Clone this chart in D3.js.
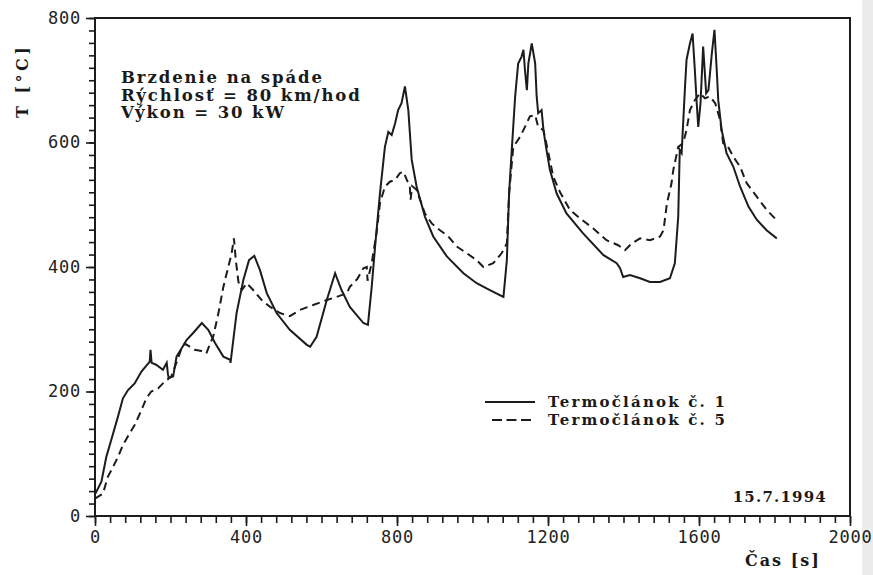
<!DOCTYPE html>
<html>
<head>
<meta charset="utf-8">
<script src="https://cdn.jsdelivr.net/npm/d3@7"></script>
<style>
  body { margin: 0; background: #fff; }
  svg { display: block; }
  .tick text { font-family: "DejaVu Sans Mono", monospace; font-size: 17px; fill: #222; }
  .lbl { font-family: "DejaVu Serif", serif; font-weight: bold; fill: #1a1a1a; }
</style>
</head>
<body>
<div id="chart"></div>
<script>
// Termočlánok č. 1 (solid)
const time1 = [1, 17, 30, 43, 61, 74, 87, 105, 123, 145, 147, 150, 162, 180, 190, 193, 195, 207, 216, 243, 260, 283, 300, 318, 340, 358, 359, 375, 393, 408, 422, 437, 455, 481, 516, 561, 570, 587, 614, 636, 653, 675, 711, 723, 733, 742, 755, 768, 777, 786, 795, 803, 812, 821, 830, 839, 852, 874, 896, 932, 976, 1011, 1046, 1082, 1091, 1097, 1104, 1113, 1121, 1130, 1135, 1139, 1144, 1148, 1157, 1166, 1170, 1174, 1183, 1188, 1196, 1205, 1223, 1249, 1293, 1347, 1382, 1391, 1399, 1417, 1444, 1470, 1497, 1523, 1536, 1545, 1549, 1554, 1563, 1567, 1576, 1583, 1589, 1594, 1598, 1604, 1611, 1619, 1625, 1634, 1641, 1647, 1651, 1660, 1673, 1691, 1709, 1731, 1753, 1779, 1806];
const temp1 = [36, 55, 95, 122, 160, 189, 202, 213, 232, 248, 267, 246, 243, 235, 246, 229, 222, 224, 256, 283, 294, 310, 299, 278, 256, 251, 246, 326, 379, 411, 418, 395, 358, 326, 299, 275, 272, 288, 347, 390, 363, 336, 310, 307, 368, 433, 519, 593, 617, 612, 631, 652, 663, 690, 652, 572, 529, 481, 449, 417, 390, 374, 363, 352, 411, 519, 588, 674, 727, 738, 749, 716, 684, 727, 759, 727, 674, 647, 652, 620, 588, 556, 518, 486, 454, 419, 406, 398, 384, 387, 382, 376, 376, 382, 406, 481, 588, 583, 690, 733, 759, 775, 716, 663, 625, 663, 754, 679, 684, 743, 781, 716, 668, 620, 583, 561, 529, 497, 476, 459, 446];

// Termočlánok č. 5 (dashed)
const time5 = [0, 21, 34, 48, 61, 74, 92, 105, 123, 136, 149, 167, 185, 202, 215, 229, 238, 251, 264, 282, 295, 305, 313, 327, 340, 353, 362, 368, 373, 380, 389, 402, 419, 444, 464, 490, 516, 543, 578, 614, 640, 667, 675, 695, 711, 720, 722, 733, 746, 755, 768, 781, 795, 808, 817, 826, 834, 836, 840, 852, 861, 874, 892, 914, 936, 958, 985, 1011, 1029, 1055, 1077, 1091, 1097, 1108, 1126, 1139, 1152, 1166, 1174, 1188, 1201, 1214, 1232, 1258, 1285, 1320, 1355, 1386, 1404, 1422, 1444, 1470, 1497, 1506, 1515, 1527, 1532, 1545, 1558, 1567, 1576, 1589, 1603, 1616, 1629, 1643, 1656, 1664, 1677, 1691, 1709, 1726, 1753, 1779, 1806];
const temp5 = [28, 36, 63, 79, 95, 114, 133, 146, 170, 189, 200, 205, 216, 224, 245, 269, 277, 272, 267, 265, 261, 277, 288, 326, 368, 400, 422, 446, 411, 376, 363, 374, 363, 345, 336, 326, 321, 331, 339, 347, 352, 358, 368, 381, 398, 400, 378, 406, 456, 503, 529, 537, 540, 551, 553, 540, 529, 508, 530, 524, 508, 486, 470, 459, 449, 433, 422, 411, 400, 406, 422, 438, 518, 593, 609, 625, 642, 644, 625, 620, 583, 545, 520, 492, 478, 462, 443, 435, 427, 438, 446, 443, 449, 459, 502, 534, 556, 593, 599, 620, 652, 668, 679, 671, 674, 663, 636, 599, 593, 577, 561, 535, 513, 492, 475];

const xMajor = [0, 400, 800, 1200, 1600, 2000];
const yMajor = [0, 200, 400, 600, 800];
const notes = ["Brzdenie na spáde", "Rýchlosť = 80 km/hod", "Výkon = 30 kW"];
const legendNames = ["Termočlánok č. 1", "Termočlánok č. 5"];
const dateText = "15.7.1994";

const width = 873;
const height = 575;
const ink = "#1c1c1c";

const svg = d3.select("#chart").append("svg").attr("width", width).attr("height", height);

// scan shadow on the right edge
svg.append("rect").attr("x", 862).attr("y", 0).attr("width", 11).attr("height", height).attr("fill", "#ececec");

const x = d3.scaleLinear().domain([0, 2000]).range([95, 850]);
const y = d3.scaleLinear().domain([0, 800]).range([516, 18]);

// minor ticks
svg.append("g").attr("transform", "translate(0,516)")
  .call(d3.axisBottom(x).tickValues(d3.range(0, 2001, 40)).tickSize(7).tickFormat(""))
  .call(g => g.select(".domain").remove());
svg.append("g").attr("transform", "translate(95,0)")
  .call(d3.axisLeft(y).tickValues(d3.range(0, 801, 20)).tickSize(6).tickFormat(""))
  .call(g => g.select(".domain").remove());

// major ticks + labels
svg.append("g").attr("transform", "translate(0,516)")
  .call(d3.axisBottom(x).tickValues(xMajor).tickSize(10).tickFormat(d3.format("d")))
  .call(g => g.select(".domain").remove())
  .call(g => g.selectAll("text").attr("dy", null).attr("y", 27).attr("letter-spacing", 0.8));
svg.append("g").attr("transform", "translate(95,0)")
  .call(d3.axisLeft(y).tickValues(yMajor).tickSize(9).tickPadding(5).tickFormat(d3.format("d")))
  .call(g => g.select(".domain").remove())
  .call(g => g.selectAll("text").attr("letter-spacing", 0.8));

svg.selectAll(".tick line").attr("stroke", ink).attr("stroke-width", 1.6);

// frame
svg.append("rect").attr("x", 95).attr("y", 18).attr("width", 755).attr("height", 498)
  .attr("fill", "none").attr("stroke", ink).attr("stroke-width", 2);

// curves
const line = d3.line().x(d => x(d[0])).y(d => y(d[1]));
const s1 = time1.map((t, i) => [t, temp1[i]]);
const s5 = time5.map((t, i) => [t, temp5[i]]);

svg.append("path").datum(s5).attr("d", line).attr("fill", "none")
  .attr("stroke", ink).attr("stroke-width", 2).attr("stroke-dasharray", "8,5");
svg.append("path").datum(s1).attr("d", line).attr("fill", "none")
  .attr("stroke", ink).attr("stroke-width", 2);

// annotation
svg.append("g").selectAll("text").data(notes).join("text")
  .attr("class", "lbl").attr("x", 121).attr("y", (d, i) => 83 + i * 17.5)
  .attr("font-size", 16.5).attr("letter-spacing", 1.9).text(d => d);

// legend
const leg = svg.append("g");
leg.append("line").attr("x1", 485).attr("x2", 535).attr("y1", 402).attr("y2", 402)
  .attr("stroke", ink).attr("stroke-width", 1.8);
leg.append("line").attr("x1", 492).attr("x2", 535).attr("y1", 420).attr("y2", 420)
  .attr("stroke", ink).attr("stroke-width", 1.8).attr("stroke-dasharray", "10,4.5");
leg.selectAll("text").data(legendNames).join("text")
  .attr("class", "lbl").attr("x", 548).attr("y", (d, i) => 407 + i * 18)
  .attr("font-size", 15).attr("letter-spacing", 2.2).text(d => d);

// date
svg.append("text").attr("class", "lbl").attr("x", 827).attr("y", 502)
  .attr("text-anchor", "end").attr("font-size", 15).attr("letter-spacing", 1.2).text(dateText);

// axis titles
svg.append("text").attr("class", "lbl").attr("x", 745).attr("y", 566)
  .attr("font-size", 16).attr("letter-spacing", 2).text("Čas [s]");
svg.append("text").attr("class", "lbl")
  .attr("transform", "translate(28,118) rotate(-90)")
  .attr("font-size", 16).attr("letter-spacing", 3.5).text("T [°C]");
</script>
</body>
</html>
